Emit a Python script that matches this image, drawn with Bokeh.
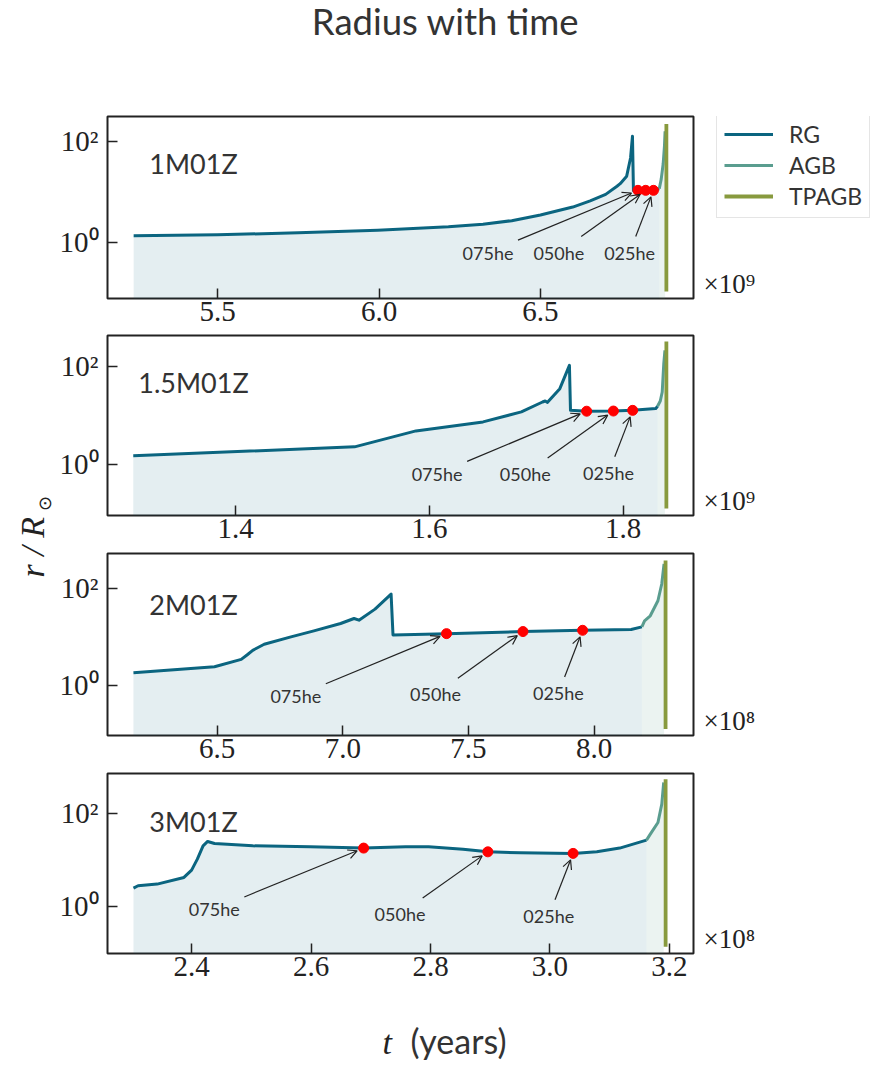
import math
from bokeh.plotting import figure
from bokeh.models import (Range1d, FixedTicker, PrintfTickFormatter, CustomJSTickFormatter,
                          Legend, LegendItem, Arrow, OpenHead, ColumnDataSource)
from bokeh.layouts import column, row
from bokeh.core.properties import value
from bokeh.embed import file_html
from bokeh.resources import INLINE

# ---------------- data ----------------
names = ["1M01Z", "1.5M01Z", "2M01Z", "3M01Z"]
scale_text = ["\u00d710\u2079", "\u00d710\u2079", "\u00d710\u2078", "\u00d710\u2078"]
he_names = ["075he", "050he", "025he"]
phase_names = ["RG", "AGB", "TPAGB"]

# 1M01Z (t in 1e9 yr)
t_rg_1 = [5.240, 5.500, 5.750, 5.996, 6.215, 6.322, 6.411, 6.500, 6.600, 6.654, 6.702, 6.737, 6.747,
          6.767, 6.779, 6.785, 6.788, 6.802, 6.826, 6.850, 6.868]
r_rg_1 = [1.35, 1.41, 1.55, 1.74, 2.04, 2.29, 2.69, 3.47, 5.0, 6.6, 8.9, 12.9, 14.5,
          20.4, 46.8, 126, 10.5, 10.7, 10.7, 10.7, 11.5]
t_agb_1 = [6.868, 6.874, 6.880, 6.884, 6.886]
r_agb_1 = [11.5, 17.8, 35.5, 79, 158]
t_tp_1 = [6.890, 6.890]
r_tp_1 = [219, 0.107]
he_t_1 = [6.802, 6.826, 6.850]
he_r_1 = [10.7, 10.7, 10.7]
lab_t_1 = [6.3375, 6.557, 6.776]
lab_r_1 = [0.63, 0.63, 0.63]

# 1.5M01Z (t in 1e9 yr)
t_rg_2 = [1.2943, 1.5228, 1.5822, 1.5861, 1.6554, 1.6950, 1.7168, 1.7196, 1.7220, 1.7347, 1.7446,
          1.7457, 1.7624, 1.7900, 1.8099, 1.8337, 1.8356]
r_rg_2 = [1.50, 2.29, 4.62, 4.84, 7.38, 11.8, 18.8, 19.7, 18.5, 35.2, 105,
          12.7, 12.2, 12.3, 12.7, 13.8, 15.4]
t_agb_2 = [1.8356, 1.8384, 1.8404, 1.8420, 1.8432]
r_agb_2 = [15.4, 19.7, 30, 113, 212]
t_tp_2 = [1.8447, 1.8447]
r_tp_2 = [320, 0.127]
he_t_2 = [1.7624, 1.7900, 1.8099]
he_r_2 = [12.2, 12.3, 12.7]
lab_t_2 = [1.608, 1.699, 1.785]
lab_r_2 = [0.64, 0.64, 0.68]

# 2M01Z (t in 1e8 yr)
t_rg_3 = [6.1669, 6.4894, 6.5958, 6.6187, 6.6415, 6.6871, 6.7936, 6.8849, 6.9913, 7.0446, 7.0643,
          7.1282, 7.1921, 7.1997, 7.4127, 7.7169, 7.9542, 8.1474, 8.1900]
r_rg_3 = [1.80, 2.40, 3.41, 4.2, 5.24, 6.99, 9.93, 13.2, 18.8, 23.8, 22.0,
          37.2, 76.3, 10.9, 11.6, 12.8, 13.6, 14.1, 16.0]
t_agb_3 = [8.1900, 8.2007, 8.2235, 8.2539, 8.2691, 8.2783]
r_agb_3 = [16.0, 21.3, 27.1, 55.5, 123, 320]
t_tp_3 = [8.2843, 8.2843]
r_tp_3 = [375, 0.124]
he_t_3 = [7.4127, 7.7169, 7.9542]
he_r_3 = [11.6, 12.8, 13.6]
lab_t_3 = [6.813, 7.369, 7.858]
lab_r_3 = [0.59, 0.65, 0.69]

# 3M01Z (t in 1e8 yr)
t_rg_4 = [2.3027, 2.3104, 2.3424, 2.3872, 2.4000, 2.4096, 2.4192, 2.4269, 2.4384, 2.5024, 2.5984,
          2.6880, 2.7584, 2.7968, 2.8544, 2.8960, 2.9504, 3.0387, 3.0784, 3.1168, 3.1616]
r_rg_4 = [2.47, 2.77, 3.01, 4.18, 6.0, 10.3, 19.9, 24.7, 22.4, 19.9, 19.0,
          17.8, 19.0, 19.0, 16.9, 14.8, 14.1, 13.7, 14.8, 17.8, 26.4]
t_agb_4 = [3.1616, 3.1680, 3.1808, 3.1872, 3.1904]
r_agb_4 = [26.4, 35.5, 63, 156, 454]
t_tp_4 = [3.1936, 3.1936]
r_tp_4 = [535, 0.137]
he_t_4 = [2.688, 2.896, 3.0387]
he_r_4 = [17.8, 14.8, 13.7]
lab_t_4 = [2.438, 2.749, 2.998]
lab_r_4 = [0.87, 0.69, 0.63]

x_ticks = [[5.5, 6.0, 6.5], [1.4, 1.6, 1.8], [6.5, 7.0, 7.5, 8.0], [2.4, 2.6, 2.8, 3.0, 3.2]]
x_lo = [5.159, 1.2677, 6.0636, 2.2592]
x_hi = [6.974, 1.8727, 8.3955, 3.2403]
y_lo_exp = [-1.11, -1.04, -1.04, -1.01]
y_hi_exp = [2.49, 2.63, 2.72, 2.85]

panels = [
    (t_rg_1, r_rg_1, t_agb_1, r_agb_1, t_tp_1, r_tp_1, he_t_1, he_r_1, lab_t_1, lab_r_1),
    (t_rg_2, r_rg_2, t_agb_2, r_agb_2, t_tp_2, r_tp_2, he_t_2, he_r_2, lab_t_2, lab_r_2),
    (t_rg_3, r_rg_3, t_agb_3, r_agb_3, t_tp_3, r_tp_3, he_t_3, he_r_3, lab_t_3, lab_r_3),
    (t_rg_4, r_rg_4, t_agb_4, r_agb_4, t_tp_4, r_tp_4, he_t_4, he_r_4, lab_t_4, lab_r_4),
]

# ---------------- style / layout ----------------
C_RG = "#0b6580"
C_AGB = "#5a9d8f"
C_TP = "#889a3e"
TXT = "#333333"
DARK = "#222222"
SANS = "Lato"
SERIF = "Liberation Serif"

YL_W = 54                      # y-label strip
BL, FW, BRP = 53, 586, 5       # panel left border, frame width, right border
P_W = BL + FW + BRP
R_W = 870 - YL_W - P_W         # right strip (legend, offset text)
TITLE_H = 108
XL_H = 75
HEIGHTS = [225, 218, 220, 217]
B_TOP = [8, 2, 2, 2]
F_H = [182, 180, 182, 180]
NAME_DY = [135, 133, 131, 132]   # panel name centre above frame bottom (px)


def blank(w, h, top=0, bottom=0):
    fh = h - top - bottom
    f = figure(width=w, height=h, x_range=Range1d(0, w), y_range=Range1d(0, fh),
               x_axis_location=None, y_axis_location=None, output_backend="svg",
               toolbar_location=None, min_border_left=0, min_border_right=0,
               min_border_top=top, min_border_bottom=bottom)
    f.outline_line_color = None
    f.xgrid.visible = False
    f.ygrid.visible = False
    return f


def put_text(f, x, y, txt, font, size, color=TXT, align="left", angle=0.0, style="normal"):
    f.text(x=[x], y=[y], text=[txt], text_font=value(font), text_font_size=size,
           text_color=color, text_align=align, text_baseline="middle", angle=angle,
           text_font_style=style)


rows = []
for i, (t_rg, r_rg, t_agb, r_agb, t_tp, r_tp, he_t, he_r, lab_t, lab_r) in enumerate(panels):
    h = HEIGHTS[i]
    bb = h - B_TOP[i] - F_H[i]
    p = figure(width=P_W, height=h, y_axis_type="log",
               x_range=Range1d(x_lo[i], x_hi[i]),
               y_range=Range1d(10 ** y_lo_exp[i], 10 ** y_hi_exp[i]),
               output_backend="svg", toolbar_location=None,
               min_border_left=BL, min_border_right=BRP,
               min_border_top=B_TOP[i], min_border_bottom=bb)
    p.xgrid.visible = False
    p.ygrid.visible = False
    p.outline_line_color = DARK
    p.outline_line_width = 2

    p.xaxis.ticker = FixedTicker(ticks=x_ticks[i], minor_ticks=[])
    p.xaxis.formatter = PrintfTickFormatter(format="%.1f")
    p.yaxis.ticker = FixedTicker(ticks=[1, 100], minor_ticks=[])
    p.yaxis.formatter = CustomJSTickFormatter(
        code="return tick == 1 ? '10\u2070' : (tick == 100 ? '10\u00b2' : '');")
    for ax in (p.xaxis[0], p.yaxis[0]):
        ax.axis_line_color = None
        ax.major_tick_in = 10
        ax.major_tick_out = 0
        ax.major_tick_line_width = 1.5
        ax.major_tick_line_color = DARK
        ax.minor_tick_line_color = None
        ax.major_label_text_font = SERIF
        ax.major_label_text_font_size = "29px"
        ax.major_label_text_color = DARK
    p.xaxis.major_label_standoff = 3
    p.yaxis.major_label_standoff = 9

    floor_rg = [10 ** (y_lo_exp[i] - 1)] * len(t_rg)
    floor_agb = [10 ** (y_lo_exp[i] - 1)] * len(t_agb)
    p.varea(x=t_rg, y1=floor_rg, y2=r_rg, fill_color=C_RG, fill_alpha=0.11)
    p.varea(x=t_agb, y1=floor_agb, y2=r_agb, fill_color=C_AGB, fill_alpha=0.12)

    p.line(t_rg, r_rg, line_color=C_RG, line_width=3, line_join="round")
    p.line(t_agb, r_agb, line_color=C_AGB, line_width=3, line_join="round")
    p.line(t_tp, r_tp, line_color=C_TP, line_width=3.8)

    # arrows from labels to helium markers
    sx = FW / (x_hi[i] - x_lo[i])
    sy = F_H[i] / (y_hi_exp[i] - y_lo_exp[i])
    xs0, ys0, xs1, ys1 = [], [], [], []
    hw, hh = 30.0, 16.0
    for tx, tr, dx, dr in zip(lab_t, lab_r, he_t, he_r):
        vx = (dx - tx) * sx
        vy = (math.log10(dr) - math.log10(tr)) * sy
        f = min(hw / abs(vx) if vx else 1e9, hh / abs(vy) if vy else 1e9)
        L = math.hypot(vx, vy)
        g = 1 - 7.0 / L
        xs0.append(tx + f * vx / sx)
        ys0.append(10 ** (math.log10(tr) + f * vy / sy))
        xs1.append(tx + g * vx / sx)
        ys1.append(10 ** (math.log10(tr) + g * vy / sy))
    src = ColumnDataSource(dict(x0=xs0, y0=ys0, x1=xs1, y1=ys1))
    p.add_layout(Arrow(end=OpenHead(size=9, line_width=1.2, line_color=DARK),
                       source=src, x_start="x0", y_start="y0", x_end="x1", y_end="y1",
                       line_width=1.2, line_color=DARK))

    p.scatter(he_t, he_r, size=10, color="red")
    p.text(x=lab_t, y=lab_r, text=he_names, text_font=value(SANS), text_font_size="18px",
           text_align="center", text_baseline="middle", text_color=TXT)

    # panel name (position given in frame pixels, converted to data)
    put_text(p, x_lo[i] + 86 / sx, 10 ** (y_lo_exp[i] + NAME_DY[i] / sy), names[i],
             SANS, "27px", align="left" if False else "center")

    # right strip: offset text (and legend for first panel)
    r = blank(R_W, h, top=B_TOP[i], bottom=bb)
    put_text(r, 5, 15, scale_text[i], SERIF, "27px", color=DARK)
    if i == 0:
        lr = [r.line([-30, -20], [-30, -20], line_color=c, line_width=w)
              for c, w in ((C_RG, 3), (C_AGB, 3), (C_TP, 3.8))]
        legend = Legend(items=[LegendItem(label=n, renderers=[g]) for n, g in zip(phase_names, lr)],
                        location=(18, 80), margin=0, padding=7, spacing=3,
                        glyph_width=49, glyph_height=20, label_standoff=16,
                        label_text_font=SANS, label_text_font_size="23px", label_text_color=TXT,
                        border_line_color="#cccccc", border_line_width=1.5,
                        background_fill_color="white", background_fill_alpha=1.0)
        r.add_layout(legend)
    rows.append(row(p, r, spacing=0))

# title strip
tfig = blank(P_W + R_W, TITLE_H)
put_text(tfig, 445 - YL_W, TITLE_H - 20, "Radius with time", SANS, "36.5px", align="center")

# x label strip
xfig = blank(P_W + R_W, XL_H)
put_text(xfig, 382 - YL_W, 21.5, "t", SERIF, "34px", color=DARK, style="italic")
put_text(xfig, 410 - YL_W, 23, "(years)", SANS, "34px")

# y label strip
TOTAL_H = TITLE_H + sum(HEIGHTS) + XL_H
yfig = blank(YL_W, TOTAL_H)
put_text(yfig, 32, TOTAL_H - 577, "r / R", SERIF, "34px", color=DARK,
         angle=math.pi / 2, style="italic")
put_text(yfig, 44, TOTAL_H - 503, "\u2299", "DejaVu Sans", "18px", color=DARK,
         align="center", angle=math.pi / 2)

layout = row(yfig, column(tfig, *rows, xfig, spacing=0), spacing=0)
open("out.html", "w").write(file_html(layout, INLINE))
